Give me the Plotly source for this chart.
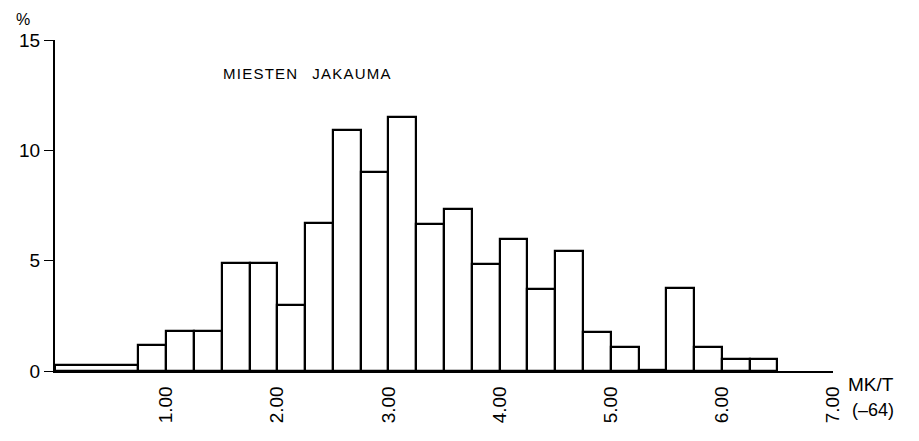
import plotly.graph_objects as go

# bin edges (MK/T) and percentages
bin_left = [0.0, 0.75, 1.0, 1.25, 1.5, 1.75, 2.0, 2.25, 2.5, 2.75, 3.0, 3.25, 3.5, 3.75,
            4.0, 4.25, 4.5, 4.75, 5.0, 5.25, 5.5, 5.75, 6.0, 6.25]
bin_right = [0.75, 1.0, 1.25, 1.5, 1.75, 2.0, 2.25, 2.5, 2.75, 3.0, 3.25, 3.5, 3.75, 4.0,
             4.25, 4.5, 4.75, 5.0, 5.25, 5.5, 5.75, 6.0, 6.25, 6.5]
percent = [0.25, 1.2, 1.8, 1.8, 4.9, 4.9, 3.0, 6.7, 10.9, 9.0, 11.5, 6.65, 7.35, 4.85,
           6.0, 3.7, 5.45, 1.75, 1.1, 0.05, 3.75, 1.1, 0.55, 0.55]

x_ticks = [1, 2, 3, 4, 5, 6, 7]
x_tick_labels = ["1.00", "2.00", "3.00", "4.00", "5.00", "6.00", "7.00"]
y_ticks = [0, 5, 10, 15]
y_tick_labels = ["0", "5", "10", "15"]

centers = [(a + b) / 2 for a, b in zip(bin_left, bin_right)]
widths = [b - a for a, b in zip(bin_left, bin_right)]

FONT = "Liberation Sans, Arial, Helvetica, sans-serif"

fig = go.Figure(go.Bar(
    x=centers, y=percent, width=widths,
    marker=dict(color="white", line=dict(color="black", width=2.2)),
    hoverinfo="skip",
))

fig.update_layout(
    width=919, height=441,
    margin=dict(l=47, r=94, t=32, b=78, autoexpand=False),
    paper_bgcolor="white", plot_bgcolor="white",
    showlegend=False,
    font=dict(family=FONT, color="black"),
    bargap=0,
)

fig.update_xaxes(
    range=[0, 7.0], showgrid=False, zeroline=False,
    showline=True, linecolor="black", linewidth=1.5,
    tickmode="array", tickvals=x_ticks, ticktext=x_tick_labels,
    tickangle=-90, ticks="", tickfont=dict(size=19, family=FONT),
    ticklabelstandoff=6,
)
fig.update_yaxes(
    range=[0, 15], showgrid=False, zeroline=False,
    showline=True, linecolor="black", linewidth=2,
    tickmode="array", tickvals=y_ticks, ticktext=y_tick_labels,
    ticks="outside", ticklen=9, tickwidth=1, tickcolor="black",
    tickfont=dict(size=19, family=FONT), ticklabelstandoff=0,
)

fig.add_annotation(x=0, y=1, xref="paper", yref="paper", text="%",
                   showarrow=False, xanchor="center", yanchor="bottom",
                   xshift=-32, yshift=10, font=dict(size=16, family=FONT))
fig.add_annotation(x=0.214, y=0.90, xref="paper", yref="paper",
                   text="M I E S T E N   J A K A U M A".replace("   ", "\u2003").replace(" ", "\u200a"),
                   showarrow=False, xanchor="left", yanchor="middle",
                   font=dict(size=15, family=FONT))
fig.add_annotation(x=1, y=0, xref="paper", yref="paper", text="MK/T",
                   showarrow=False, xanchor="left", yanchor="top",
                   xshift=13, yshift=-1, font=dict(size=19, family=FONT))
fig.add_annotation(x=1, y=0, xref="paper", yref="paper", text="(\u201364)",
                   showarrow=False, xanchor="left", yanchor="top",
                   xshift=17, yshift=-27, font=dict(size=18, family=FONT))

fig.write_html("out.html")
